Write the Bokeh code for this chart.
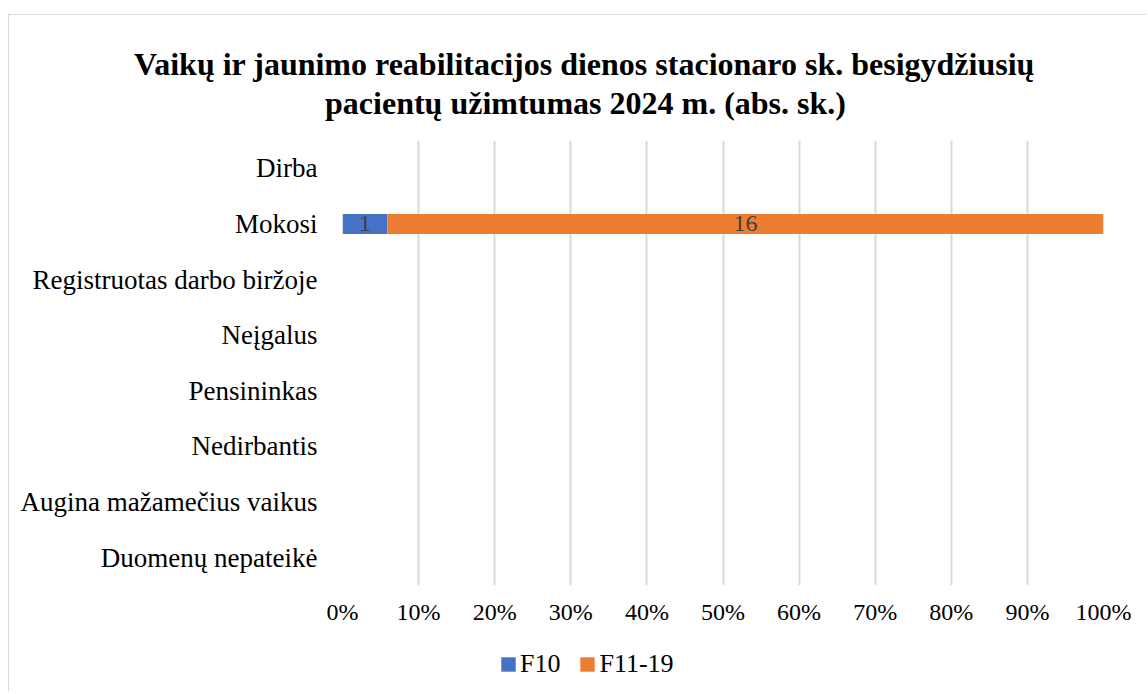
from bokeh.plotting import figure
from bokeh.layouts import column
from bokeh.models import (FactorRange, Range1d, FixedTicker, NumeralTickFormatter,
                          ColumnDataSource, Legend, LegendItem)
from bokeh.core.properties import value
from bokeh.embed import file_html
from bokeh.resources import INLINE

categories = ["Dirba", "Mokosi", "Registruotas darbo biržoje", "Neįgalus",
              "Pensininkas", "Nedirbantis", "Augina mažamečius vaikus", "Duomenų nepateikė"]
series_names = ["F10", "F11-19"]
f10 = [0, 1, 0, 0, 0, 0, 0, 0]
f11_19 = [0, 16, 0, 0, 0, 0, 0, 0]
x_ticks = [0, 0.1, 0.2, 0.3, 0.4, 0.5, 0.6, 0.7, 0.8, 0.9, 1.0]
colors = ["#4472C4", "#ED7D31"]
title_lines = ["Vaikų ir jaunimo reabilitacijos dienos stacionaro sk. besigydžiusių",
               "pacientų užimtumas 2024 m. (abs. sk.)"]

FONT = "Liberation Serif"
BORDER = "1px solid #d9d9d9"
W = 1138


def strip(height, margin, styles):
    f = figure(x_range=Range1d(0, W), y_range=Range1d(0, height), width=W, height=height,
               output_backend="svg", toolbar_location=None,
               x_axis_location=None, y_axis_location=None,
               min_border_left=0, min_border_right=0, min_border_top=0, min_border_bottom=0)
    f.margin = margin
    f.styles = styles
    f.frame_align = False
    f.outline_line_color = None
    f.xgrid.grid_line_color = None
    f.ygrid.grid_line_color = None
    f.background_fill_color = "white"
    f.border_fill_color = "white"
    return f


# ---- title strip ----
top = strip(126, (14, 0, 0, 8), {"border-left": BORDER, "border-top": BORDER})
tsrc = ColumnDataSource(dict(x=[575, 576], y=[78, 39], t=title_lines))
top.text(x="x", y="y", text="t", source=tsrc, text_align="center",
         text_baseline="alphabetic", text_font=value(FONT), text_font_size="32px",
         text_font_style="bold", text_color="#000000")

# ---- main chart ----
totals = [a + b for a, b in zip(f10, f11_19)]
s10 = [a / t if t else 0 for a, t in zip(f10, totals)]
s11 = [b / t if t else 0 for b, t in zip(f11_19, totals)]
src = ColumnDataSource(dict(
    cat=categories,
    l10=[0] * len(categories), r10=s10,
    l11=s10, r11=[a + b for a, b in zip(s10, s11)],
))

p = figure(y_range=FactorRange(factors=list(reversed(categories))),
           x_range=Range1d(0, 1),
           width=W, height=499, output_backend="svg", toolbar_location=None,
           min_border_left=333, min_border_right=44, min_border_top=0,
           min_border_bottom=54)
p.margin = (0, 0, 0, 8)
p.styles = {"border-left": BORDER}
p.frame_align = False
p.outline_line_color = None
p.background_fill_color = "white"
p.border_fill_color = "white"

r1 = p.hbar(y="cat", left="l10", right="r10", height=0.36, source=src,
            fill_color=colors[0], line_color=None)
r2 = p.hbar(y="cat", left="l11", right="r11", height=0.36, source=src,
            fill_color=colors[1], line_color=None)

# data labels
lab_x, lab_y, lab_t = [], [], []
for c, a, b, sa, sb in zip(categories, f10, f11_19, s10, s11):
    if a:
        lab_x.append(sa / 2); lab_y.append(c); lab_t.append(str(a))
    if b:
        lab_x.append(sa + sb / 2); lab_y.append(c); lab_t.append(str(b))
lsrc = ColumnDataSource(dict(x=lab_x, y=lab_y, t=lab_t))
p.text(x="x", y="y", text="t", source=lsrc, text_align="center", text_baseline="middle",
       text_font=value(FONT), text_font_size="24px", text_color="#404040")

p.xaxis.ticker = FixedTicker(ticks=x_ticks)
p.xaxis.formatter = NumeralTickFormatter(format="0%")
for ax in (p.xaxis[0], p.yaxis[0]):
    ax.axis_line_color = None
    ax.major_tick_line_color = None
    ax.minor_tick_line_color = None
    ax.major_tick_out = 0
    ax.major_tick_in = 0
    ax.major_label_text_font = FONT
    ax.major_label_text_color = "#000000"
p.xaxis.major_label_text_font_size = "24px"
p.xaxis.major_label_standoff = 13
p.yaxis.major_label_text_font_size = "27px"
p.yaxis.major_label_standoff = 25

p.xgrid.grid_line_color = "#d9d9d9"
p.xgrid.grid_line_width = 2
p.ygrid.grid_line_color = None

# ---- legend strip ----
q = strip(52, (0, 0, 0, 8), {"border-left": BORDER})
# one off-screen row per series so the legend can draw its swatch
sw = ColumnDataSource(dict(y=[-100], left=[-100], right=[-90]))
g1 = q.hbar(y="y", left="left", right="right", height=1, source=sw,
            fill_color=colors[0], line_color=None)
g2 = q.hbar(y="y", left="left", right="right", height=1, source=sw,
            fill_color=colors[1], line_color=None)
legend = Legend(items=[LegendItem(label=series_names[0], renderers=[g1]),
                       LegendItem(label=series_names[1], renderers=[g2])],
                orientation="horizontal", location=(490, 12),
                label_text_font=FONT, label_text_font_size="26px", label_height=28,
                label_text_color="#000000",
                glyph_width=18, glyph_height=18, spacing=18, label_standoff=3,
                border_line_color=None, background_fill_alpha=0, padding=0, margin=0)
q.add_layout(legend, "center")

layout = column(top, p, q, spacing=0)
open("out.html", "w").write(file_html(layout, INLINE))
